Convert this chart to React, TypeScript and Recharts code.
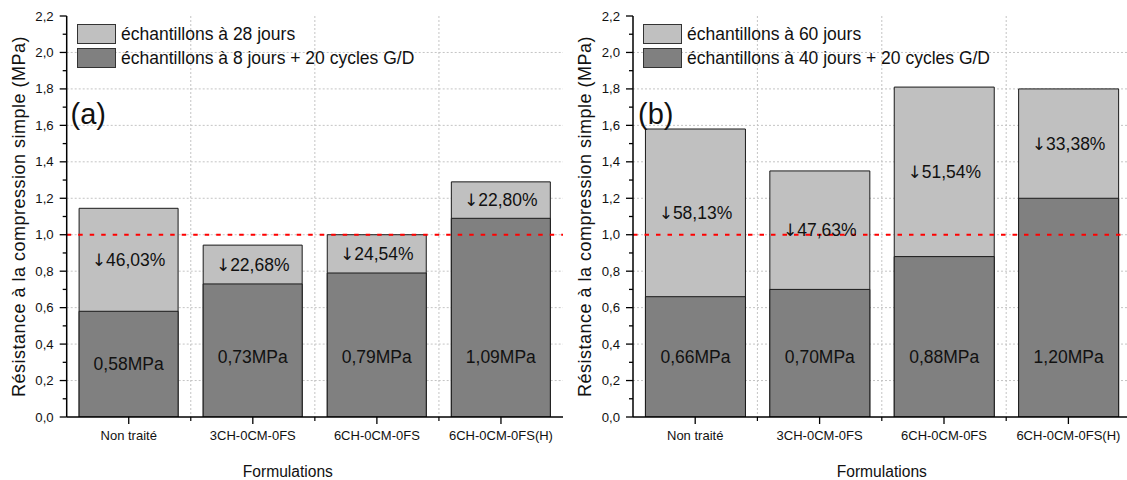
import {
  BarChart,
  Bar,
  XAxis,
  YAxis,
  CartesianGrid,
  ReferenceLine,
  ReferenceArea,
  LabelList,
  Legend,
  Label,
} from 'recharts'

const FONT = '"Liberation Sans", Arial, sans-serif'

// formulations (same for both panels)
const CATEGORIES = ['Non traité', '3CH-0CM-0FS', '6CH-0CM-0FS', '6CH-0CM-0FS(H)']

// panel (a)
const A_BASE = [1.145, 0.943, 1.0, 1.29]
const A_CYCLES = [0.58, 0.73, 0.79, 1.09]
const A_DROPS = ['↓46,03%', '↓22,68%', '↓24,54%', '↓22,80%']

// panel (b)
const B_BASE = [1.58, 1.35, 1.81, 1.8]
const B_CYCLES = [0.66, 0.7, 0.88, 1.2]
const B_DROPS = ['↓58,13%', '↓47,63%', '↓51,54%', '↓33,38%']

const Y_MAJOR = [0, 0.2, 0.4, 0.6, 0.8, 1.0, 1.2, 1.4, 1.6, 1.8, 2.0, 2.2]
const Y_MINOR = [0.1, 0.3, 0.5, 0.7, 0.9, 1.1, 1.3, 1.5, 1.7, 1.9, 2.1]
const Y_GRID = [0.2, 0.4, 0.6, 0.8, 1.0, 1.2, 1.4, 1.6, 1.8, 2.0]
const SERIES_ORDER = ['base', 'cyc']

const LIGHT = '#c0c0c0'
const DARK = '#808080'
const EDGE = '#1a1a1a'
const GRID = '#c4c4c4'

const NoTick = () => null

function YTick(props: any) {
  const { x, y, payload } = props
  const v = payload.value
  const major = Y_MAJOR.includes(v)
  const axisX = x + 13
  return (
    <g>
      <line x1={axisX - (major ? 7 : 4)} x2={axisX} y1={y} y2={y} stroke="#000" strokeWidth={1.3} />
      {major && (
        <text x={x} y={y} textAnchor="end" dominantBaseline="central" fontSize={13.2} fill="#111" fontFamily={FONT}>
          {v.toFixed(1).replace('.', ',')}
        </text>
      )}
    </g>
  )
}

// category tick: label, major tick at the centre, minor tick at the band edge
function XTick(props: any) {
  const { x, y, payload, index, width } = props
  const axisY = y - 14
  const halfBand = Number(width) / CATEGORIES.length / 2
  return (
    <g>
      <line x1={x} x2={x} y1={axisY} y2={axisY + 7} stroke="#000" strokeWidth={1.3} />
      {index < CATEGORIES.length - 1 && halfBand > 0 && (
        <line x1={x + halfBand} x2={x + halfBand} y1={axisY} y2={axisY + 4} stroke="#000" strokeWidth={1.2} />
      )}
      <text x={x} y={y} dy="0.71em" textAnchor="middle" fontSize={13} fill="#111" fontFamily={FONT}>
        {payload.value}
      </text>
    </g>
  )
}

// dotted line on the right edge of a category band
function BandEdge(props: any) {
  const { x, y, width, height } = props
  const ex = x + width
  return <line x1={ex} x2={ex} y1={y} y2={y + height} stroke={GRID} strokeDasharray="2 2" />
}

function renderLegend(props: any) {
  const items = [...(props.payload || [])].sort(
    (a: any, b: any) => SERIES_ORDER.indexOf(a.dataKey) - SERIES_ORDER.indexOf(b.dataKey)
  )
  return (
    <div style={{ fontFamily: FONT }}>
      {items.map((p: any) => (
        <div key={p.value} style={{ display: 'flex', alignItems: 'center', height: 24 }}>
          <span
            style={{
              width: 39,
              height: 20,
              boxSizing: 'border-box',
              background: p.color || p.payload?.fill,
              border: '1px solid #333',
              marginRight: 5,
            }}
          />
          <span style={{ fontSize: 17.5, color: '#111', whiteSpace: 'nowrap' }}>{p.value}</span>
        </div>
      ))}
    </div>
  )
}

interface PanelProps {
  left: number
  width: number
  marginLeft: number
  marginRight: number
  baseValues: number[]
  cycValues: number[]
  drops: string[]
  baseName: string
  cycName: string
  tag: string
  tagLeft: number
  legendLeft: number
  titleDx: number
}

function Panel(p: PanelProps) {
  const data = CATEGORIES.map((name, i) => ({
    name,
    base: p.baseValues[i],
    cyc: p.cycValues[i],
    drop: p.drops[i],
  }))

  const dropLabel = (props: any) => {
    const vb = props.viewBox || props
    const { x, y, width, height } = vb
    const i = props.index
    const darkTop = y + height - (height * p.cycValues[i]) / p.baseValues[i]
    const text = String(props.value)
    return (
      <text
        x={x + width / 2}
        y={(y + darkTop) / 2}
        textAnchor="middle"
        dominantBaseline="central"
        fontSize={17.5}
        fill="#111"
        fontFamily={FONT}
      >
        <tspan fontFamily="DejaVu Sans" fontSize={17}>
          {text.charAt(0)}
        </tspan>
        <tspan>{text.slice(1)}</tspan>
      </text>
    )
  }

  const mpaLabel = (props: any) => {
    const vb = props.viewBox || props
    const { x, y, width, height } = vb
    return (
      <text
        x={x + width / 2}
        y={y + height - Math.min(height / 2, 60)}
        textAnchor="middle"
        dominantBaseline="central"
        fontSize={17.5}
        fill="#111"
        fontFamily={FONT}
      >
        {Number(props.value).toFixed(2).replace('.', ',') + 'MPa'}
      </text>
    )
  }

  return (
    <div style={{ position: 'absolute', left: p.left, top: 0, width: p.width, height: 480 }}>
      <BarChart
        width={p.width}
        height={480}
        data={data}
        margin={{ top: 16, right: p.marginRight, bottom: 0, left: p.marginLeft }}
        barCategoryGap="10%"
      >
        <XAxis
          xAxisId="main"
          dataKey="name"
          height={63}
          interval={0}
          tickSize={7}
          tickMargin={7}
          tickLine={false}
          tick={XTick}
          axisLine={{ stroke: '#000', strokeWidth: 1.5 }}
        >
          <Label
            value="Formulations"
            position="insideBottom"
            offset={3}
            dx={p.titleDx}
            style={{ fontSize: 15.6, fill: '#111', fontFamily: FONT }}
          />
        </XAxis>
        <XAxis xAxisId="over" dataKey="name" hide height={0} />
        <XAxis
          xAxisId="top"
          orientation="top"
          dataKey="name"
          tick={false}
          tickLine={false}
          height={0}
          axisLine={{ stroke: '#000', strokeWidth: 1.5 }}
        />
        <YAxis
          yAxisId="main"
          type="number"
          domain={[0, 2.2]}
          ticks={[...Y_MAJOR, ...Y_MINOR]}
          interval={0}
          allowDataOverflow
          width={60}
          tickSize={7}
          tickMargin={6}
          tickLine={false}
          tick={YTick}
          axisLine={{ stroke: '#000', strokeWidth: 1.5 }}
        >
          <Label
            value="Résistance à la compression simple (MPa)"
            angle={-90}
            position="insideLeft"
            offset={12}
            style={{ textAnchor: 'middle', fontSize: 18, letterSpacing: 0.5, fill: '#111', fontFamily: FONT }}
          />
        </YAxis>
        <YAxis
          yAxisId="right"
          orientation="right"
          type="number"
          domain={[0, 2.2]}
          ticks={[...Y_MAJOR, ...Y_MINOR]}
          interval={0}
          width={0}
          tick={NoTick}
          tickSize={3}
          stroke="#000"
          tickLine={{ stroke: '#000', strokeWidth: 1.2 }}
          axisLine={{ stroke: '#000', strokeWidth: 1.5 }}
        />
        <CartesianGrid
          xAxisId="main"
          yAxisId="main"
          vertical={false}
          horizontalValues={Y_GRID}
          stroke={GRID}
          strokeDasharray="2 2"
        />
        {CATEGORIES.slice(0, -1).map((c) => (
          <ReferenceArea
            key={c}
            xAxisId="main"
            yAxisId="main"
            x1={c}
            x2={c}
            shape={BandEdge}
          />
        ))}
        <Bar
          xAxisId="main"
          yAxisId="main"
          dataKey="base"
          name={p.baseName}
          fill={LIGHT}
          stroke={EDGE}
          strokeWidth={1}
          isAnimationActive={false}
        >
          <LabelList dataKey="drop" content={dropLabel} />
        </Bar>
        <Bar
          xAxisId="over"
          yAxisId="main"
          dataKey="cyc"
          name={p.cycName}
          fill={DARK}
          stroke={EDGE}
          strokeWidth={1}
          isAnimationActive={false}
        >
          <LabelList dataKey="cyc" content={mpaLabel} />
        </Bar>
        <ReferenceLine
          xAxisId="main"
          yAxisId="main"
          y={1}
          stroke="#ff0000"
          strokeWidth={2}
          strokeDasharray="4.5 7"
        />
        <Legend
          layout="horizontal"
          verticalAlign="middle"
          align="center"
          content={renderLegend}
          wrapperStyle={{ left: p.legendLeft, top: 22, width: 'auto' }}
        />
      </BarChart>
      <div
        style={{
          position: 'absolute',
          left: p.tagLeft,
          top: 99.5,
          fontSize: 29,
          lineHeight: '29px',
          fontFamily: FONT,
          color: '#111',
        }}
      >
        {p.tag}
      </div>
    </div>
  )
}

export default function App() {
  return (
    <div
      style={{
        position: 'absolute',
        left: 0,
        top: 0,
        width: 1127,
        height: 480,
        overflow: 'hidden',
        background: '#fff',
      }}
    >
      <Panel
        left={0}
        width={570}
        marginLeft={6.7}
        marginRight={7}
        baseValues={A_BASE}
        cycValues={A_CYCLES}
        drops={A_DROPS}
        baseName="échantillons à 28 jours"
        cycName="échantillons à 8 jours + 20 cycles G/D"
        tag="(a)"
        tagLeft={70.5}
        legendLeft={77}
        titleDx={-27}
      />
      <Panel
        left={570}
        width={575}
        marginLeft={3}
        marginRight={14.4}
        baseValues={B_BASE}
        cycValues={B_CYCLES}
        drops={B_DROPS}
        baseName="échantillons à 60 jours"
        cycName="échantillons à 40 jours + 20 cycles G/D"
        tag="(b)"
        tagLeft={68}
        legendLeft={73}
        titleDx={0}
      />
    </div>
  )
}
